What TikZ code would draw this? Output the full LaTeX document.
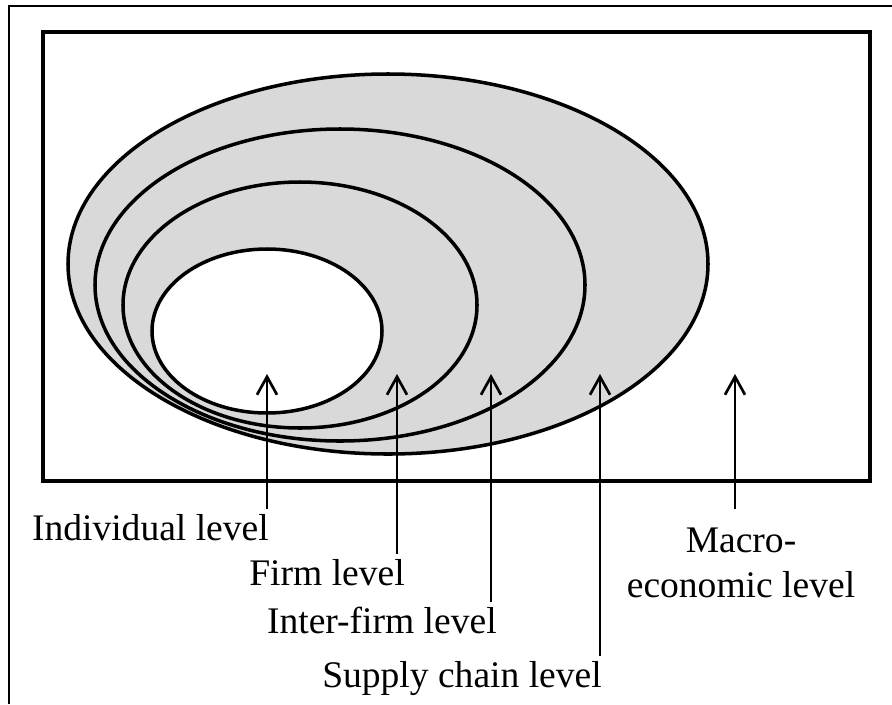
\documentclass[tikz,border=0pt]{standalone}
\usepackage{fontspec}
\setmainfont{Liberation Serif}
\usetikzlibrary{arrows.meta}
\definecolor{ringgray}{RGB}{217,217,217}

\begin{document}
\begin{tikzpicture}[x=0.025cm, y=-0.025cm,
    ring/.style={draw=black, line width=2.5pt, fill=ringgray},
    lvl/.style={font=\fontsize{26.7}{32}\selectfont, inner xsep=0pt, inner ysep=3pt},
    up/.style={line width=1.9pt, -{Straight Barb[length=4.5mm, width=5mm]}}
  ]
    \useasboundingbox (0,0) rectangle (892,704);
    % frame
    \draw[line width=1.5pt] (9,704) -- (9,6) -- (892,6);
    \draw[line width=2.9pt] (43,32) rectangle (870,481);
    % rings, outer to inner
    \draw[ring] (388,264) ellipse [x radius=320, y radius=190];
    \draw[ring] (340,285) ellipse [x radius=245, y radius=156];
    \draw[ring] (300,305) ellipse [x radius=177, y radius=123];
    \draw[ring, fill=white] (267,331) ellipse [x radius=115, y radius=82];
    % arrow tips
    \coordinate (t1) at (267,374);
    \coordinate (t2) at (397,374);
    \coordinate (t3) at (491,374);
    \coordinate (t4) at (600,374);
    \coordinate (t5) at (735,374);
    % Individual
    \node[lvl, anchor=base east] (indiv) at (269,540) {Individual level};
    \draw[up] (t1 |- indiv.north) -- (t1);
    % Firm
    \node[lvl, anchor=base east] (firm) at (405,585) {Firm level};
    \draw[up] (t2 |- firm.north) -- (t2);
    % Inter-firm
    \node[lvl, anchor=base east] (inter) at (497,633) {Inter-firm level};
    \draw[up] (t3 |- inter.north) -- (t3);
    % Supply chain
    \node[lvl, anchor=base east] (supply) at (602,687) {Supply chain level};
    \draw[up] (t4 |- supply.north) -- (t4);
    % Macro-economic
    \node[lvl, align=center, anchor=base, inner ysep=13pt] (macro) at (741,597) {Macro-\\economic level};
    \draw[up] (t5 |- macro.north) -- (t5);
  \end{tikzpicture}
\end{document}
